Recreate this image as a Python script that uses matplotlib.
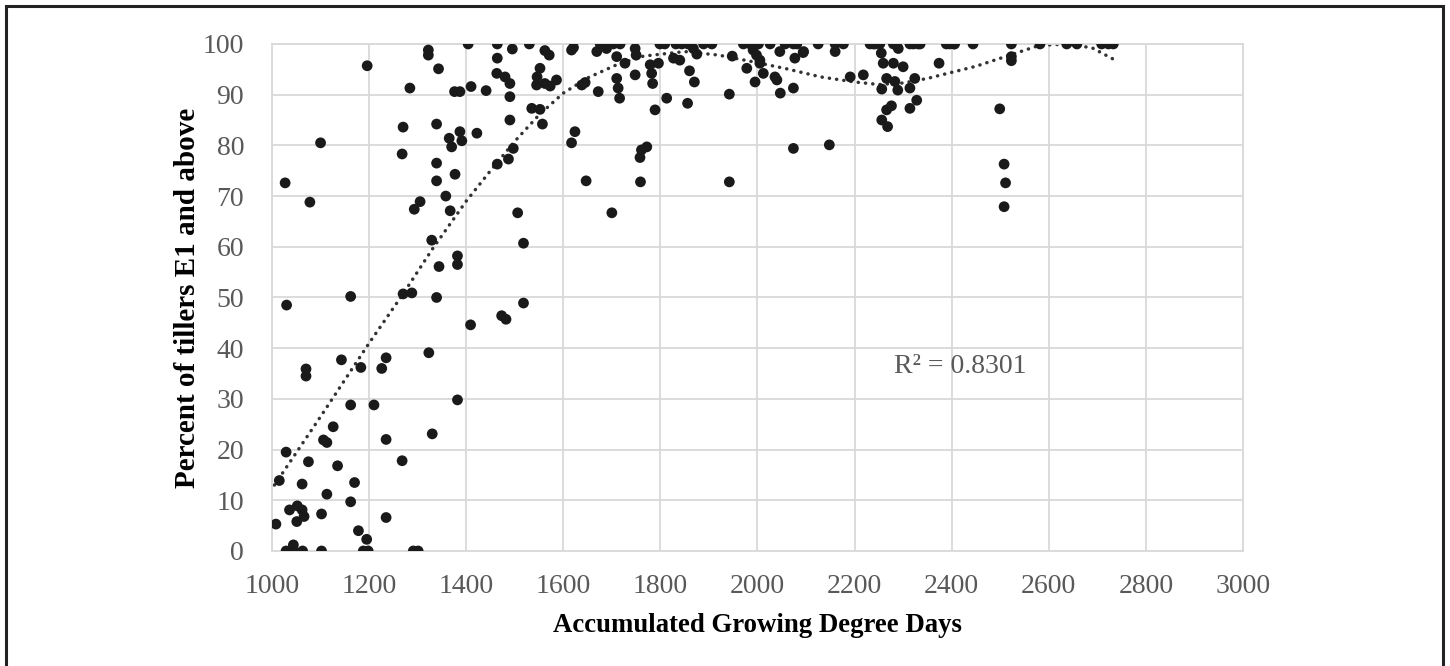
import numpy as np
import matplotlib
matplotlib.use("Agg")
import matplotlib.pyplot as plt
from matplotlib.patches import Rectangle

# --- data (GDD vs percent of tillers E1+) ---
gdd = [
    1008, 1015, 1027, 1029, 1030, 1036, 1044, 1051, 1052, 1062, 1062, 1066, 1070, 1070,
    1075, 1078, 1100, 1102, 1106, 1113, 1113, 1126, 1135, 1143, 1162, 1162, 1162, 1170,
    1178, 1183, 1195, 1196, 1210, 1226, 1235, 1235, 1235, 1268, 1268, 1270, 1270, 1284,
    1288, 1293, 1305, 1322, 1322, 1323, 1329, 1330, 1339, 1339, 1339, 1339, 1343, 1344,
    1358, 1365, 1367, 1370, 1376, 1377, 1382, 1382, 1382, 1387, 1387, 1391, 1404, 1409,
    1410, 1422, 1441, 1463, 1464, 1464, 1464, 1473, 1480, 1482, 1487, 1490, 1490, 1490,
    1495, 1497, 1506, 1518, 1518, 1530, 1535, 1545, 1546, 1552, 1552, 1557, 1562, 1562,
    1571, 1573, 1586, 1617, 1617, 1621, 1624, 1638, 1645, 1647, 1669, 1672, 1676, 1689,
    1700, 1703, 1710, 1710, 1713, 1716, 1717, 1727, 1748, 1748, 1750, 1758, 1759, 1761,
    1772, 1779, 1782, 1784, 1789, 1796, 1799, 1809, 1813, 1827, 1832, 1840, 1844, 1856,
    1857, 1860, 1868, 1870, 1875, 1889, 1906, 1942, 1942, 1948, 1971, 1978, 1985, 1991,
    1995, 1998, 2002, 2005, 2005, 2012, 2026, 2036, 2040, 2046, 2047, 2057, 2074, 2074,
    2074, 2077, 2081, 2094, 2095, 2125, 2148, 2160, 2160, 2177, 2191, 2218, 2232, 2239,
    2242, 2252, 2255, 2256, 2256, 2259, 2266, 2266, 2268, 2276, 2280, 2280, 2283, 2286,
    2289, 2290, 2300, 2314, 2314, 2314, 2321, 2324, 2328, 2331, 2335, 2374, 2389, 2396,
    2405, 2406, 2444, 2499, 2508, 2508, 2511, 2523, 2523, 2523, 2582, 2637, 2658, 2709,
    2723, 2733,
    1029, 1037, 1044, 1063, 1102, 1188, 1198, 1291, 1301,
]
pct = [
    5.3, 13.9, 72.6, 19.5, 48.5, 8.1, 1.2, 5.8, 8.9, 8.1, 13.2, 6.8, 35.9, 34.5,
    17.6, 68.8, 80.5, 7.3, 21.9, 21.4, 11.2, 24.5, 16.8, 37.7, 50.2, 28.8, 9.7, 13.5,
    4.0, 36.2, 2.3, 95.7, 28.8, 36.0, 38.1, 22.0, 6.6, 17.8, 78.3, 50.7, 83.6, 91.3,
    50.9, 67.4, 68.9, 98.8, 97.8, 39.1, 61.3, 23.1, 50.0, 84.2, 76.5, 73.0, 95.1, 56.1,
    70.0, 81.4, 67.1, 79.7, 90.6, 74.3, 58.2, 56.5, 29.8, 90.6, 82.7, 80.9, 100, 44.6,
    91.6, 82.4, 90.8, 94.2, 100, 97.2, 76.3, 46.4, 93.5, 45.7, 77.3, 92.2, 89.6, 85.0,
    99.0, 79.4, 66.7, 48.9, 60.7, 100, 87.3, 91.9, 93.5, 95.2, 87.1, 84.2, 92.2, 98.7,
    97.8, 91.7, 92.9, 98.8, 80.5, 99.3, 82.7, 91.9, 92.4, 73.0, 98.5, 90.6, 100, 99.1,
    66.7, 100, 97.5, 93.2, 91.3, 89.3, 100, 96.2, 99.1, 93.9, 97.8, 77.6, 72.8, 79.1,
    79.7, 95.9, 94.2, 92.2, 87.0, 96.2, 100, 100, 89.3, 97.2, 100, 96.8, 100, 88.3,
    100, 94.7, 99.1, 92.5, 98.0, 100, 100, 90.1, 72.8, 97.6, 100, 95.2, 100, 98.8,
    92.5, 97.8, 100, 96.8, 96.2, 94.2, 100, 93.5, 92.9, 98.5, 90.3, 100, 100, 91.3,
    79.4, 97.2, 100, 98.3, 98.5, 100, 80.1, 100, 98.5, 100, 93.5, 93.9, 100, 100,
    100, 100, 98.2, 91.1, 85.0, 96.2, 93.2, 87.0, 83.7, 87.8, 100, 96.2, 92.6, 100,
    90.9, 99.1, 95.5, 91.3, 87.3, 100, 100, 93.2, 88.9, 100, 100, 96.2, 100, 100,
    100, 100, 100, 87.2, 76.3, 67.9, 72.6, 100, 97.5, 96.7, 100, 100, 100, 100,
    100, 100,
    0, 0, 0, 0, 0, 0, 0, 0, 0,
]

# dotted trendline as it appears in the reference, read at several GDD values
trend_gdd = [1005, 1100, 1200, 1270, 1330, 1400, 1450, 1500, 1550, 1600, 1650, 1710,
             1765, 1850, 1920, 1990, 2060, 2130, 2200, 2250, 2300, 2350, 2450, 2520,
             2580, 2640, 2690, 2733]
trend_pct = [13.0, 26.5, 41.0, 50.7, 59.5, 69.0, 75.0, 80.8, 86.0, 90.3, 93.3, 95.9,
             97.6, 98.5, 97.8, 96.5, 95.1, 93.5, 92.5, 92.0, 92.3, 93.2, 95.6, 97.8,
             99.7, 100.0, 99.2, 97.0]

x_ticks = list(range(1000, 3001, 200))
y_ticks = list(range(0, 101, 10))
r2_label = "R² = 0.8301"

plt.rcParams['font.family'] = ['Liberation Serif', 'DejaVu Serif']

fig = plt.figure(figsize=(14.5, 6.66), dpi=100)
ax = fig.add_axes([0.1876, 0.1727, 0.6696, 0.7613])

# round dots, about 7 px apart
ax.plot(trend_gdd, trend_pct, linestyle=(0, (0.05, 2.05)), color='#333333',
        linewidth=2.5, dash_capstyle='round', zorder=2)

ax.scatter(gdd, pct, s=60, color='#1a1a1a', edgecolors='none', zorder=3)

ax.set_xlim(1000, 3000)
ax.set_ylim(0, 100)
ax.set_xticks(x_ticks)
ax.set_yticks(y_ticks)
ax.grid(True, color='#d9d9d9', linewidth=1.3)
ax.set_axisbelow(True)
for sp in ax.spines.values():
    sp.set_color('#d9d9d9')
    sp.set_linewidth(1.3)
ax.tick_params(length=0, labelsize=20, labelcolor='#595959')
ax.tick_params(axis='x', pad=16.5)
ax.tick_params(axis='y', pad=20)

ax.set_xlabel("Accumulated Growing Degree Days", fontsize=19.3, fontweight='bold', labelpad=10)
ax.set_ylabel("Percent of tillers E1 and above", fontsize=21, fontweight='bold', labelpad=1)

ax.text(2417, 36.3, r2_label, fontsize=20, color='#595959', ha='center', va='center')

# outer frame of the figure panel
fig.add_artist(Rectangle((6 / 1450, -0.05), (1443 - 6) / 1450, 1.05 - 6 / 666,
                         transform=fig.transFigure, fill=False, edgecolor='#222222',
                         linewidth=2.2))

fig.savefig("out.png", dpi=100)
